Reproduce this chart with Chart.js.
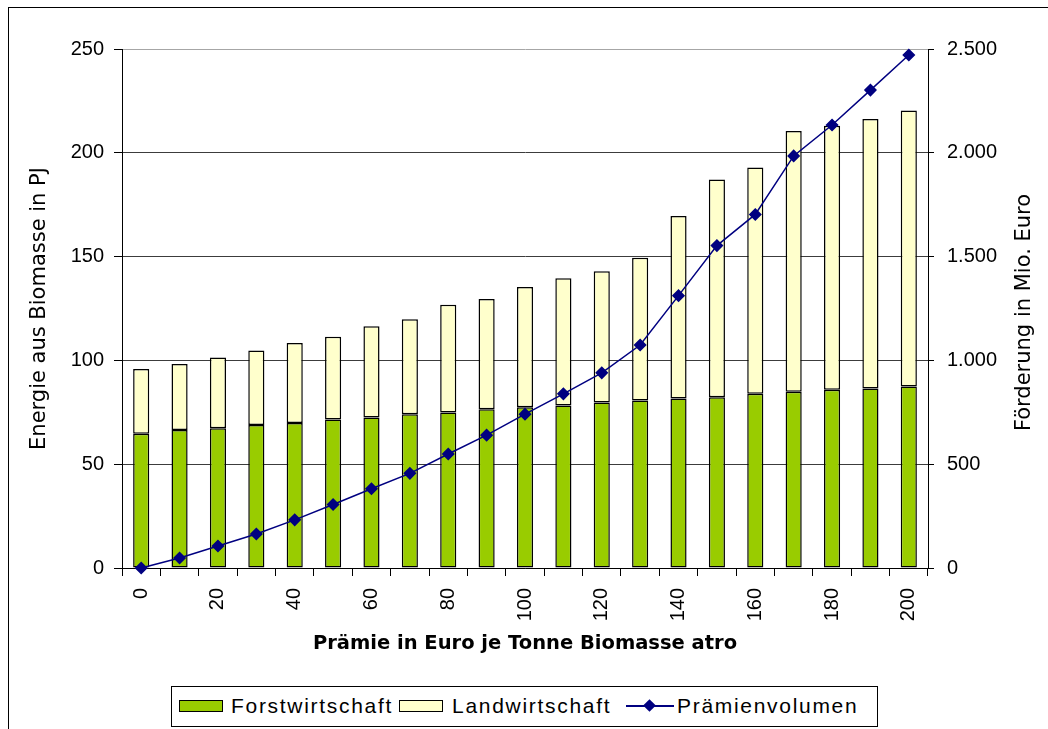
<!DOCTYPE html>
<html lang="de">
<head>
<meta charset="utf-8">
<title>Energie aus Biomasse</title>
<script src="https://cdn.jsdelivr.net/npm/chart.js@4.4.1/dist/chart.umd.min.js"></script>
<style>
  html, body { margin: 0; padding: 0; background: #fff; }
  #wrap   { position: relative; width: 1048px; height: 729px; overflow: hidden; }
  #frame  { position: absolute; left: 8px; top: 7px; width: 1200px; height: 900px;
            border-left: 1px solid #000; border-top: 1px solid #000; }
  #chart  { position: absolute; left: 0; top: 0; }
  #legend { position: absolute; left: 171px; top: 686px; width: 705px; height: 39px;
            border: 1px solid #000; background: #fff;
            font-family: "Liberation Sans", Arial, sans-serif; font-size: 21px;
            letter-spacing: 1.7px; color: #000; }
  .sw     { position: absolute; top: 13px; width: 42px; height: 10px; border: 1.5px solid #000; }
  .lbl    { position: absolute; top: 8px; line-height: 21px; white-space: nowrap; }
  .ln     { position: absolute; left: 454px; top: 18px; width: 48px; height: 2px; background: #000080; }
  .dia    { position: absolute; left: 473px; top: 14px; width: 9px; height: 9px;
            background: #000080; transform: rotate(45deg); }
</style>
</head>
<body>
<div id="wrap">
  <div id="frame"></div>
  <canvas id="chart" width="1048" height="729"></canvas>
  <div id="legend">
    <div class="sw" style="left:7px; background:#99cc00;"></div>
    <div class="lbl" style="left:59px;">Forstwirtschaft</div>
    <div class="sw" style="left:227px; background:#ffffcc;"></div>
    <div class="lbl" style="left:280px;">Landwirtschaft</div>
    <div class="ln"></div>
    <div class="dia"></div>
    <div class="lbl" style="left:505px;">Prämienvolumen</div>
  </div>
</div>
<script>
// ─── Data ────────────────────────────────────────────────────────────────────
const PRICES = ["0", "10", "20", "30", "40", "50", "60", "70", "80", "90", "100",
                "110", "120", "130", "140", "150", "160", "170", "180", "190", "200"];

// Energie in PJ (linke Achse)
const FORST = [64.7, 66.5, 67.3, 68.9, 69.9, 71.5, 72.5, 74.1, 74.9, 76.5, 77.4,
               78.3, 79.7, 80.7, 81.6, 82.3, 83.9, 84.9, 85.9, 86.5, 87.4];
const LAND  = [31.1, 31.8, 34.1, 35.9, 38.5, 39.9, 43.9, 45.7, 51.9, 53.1, 58.0,
               61.3, 63.3, 68.7, 88.0, 104.8, 109.0, 125.6, 127.1, 129.8, 133.0];

// Förderung in Mio. Euro (rechte Achse)
const VOLUME = [0, 48, 106, 164, 232, 306, 382, 456, 549, 640, 741,
                839, 940, 1074, 1312, 1553, 1703, 1985, 2134, 2302, 2471];

const LEFT_TITLE   = "Energie aus Biomasse in PJ";
const RIGHT_TITLE  = "Förderung in Mio. Euro";
const BOTTOM_TITLE = "Prämie in Euro je Tonne Biomasse atro";

// ─── Style ───────────────────────────────────────────────────────────────────
const GREEN  = "#99cc00";
const YELLOW = "#ffffcc";
const NAVY   = "#000080";
const TICK_FONT  = { family: "'Liberation Sans', Arial, sans-serif", size: 20 };
const TITLE_FONT = { family: "'DejaVu Sans', sans-serif", size: 21 };

// ─── Helpers ─────────────────────────────────────────────────────────────────
function de(v) { return String(v).replace(/\B(?=(\d{3})+(?!\d))/g, "."); }

// right axis title reads bottom-to-top like the left one (Chart.js turns it the other way)
const rightTitle = {
    id: "rightTitle",
    afterDraw(chart) {
        const { ctx, chartArea } = chart;
        const s = chart.scales.y1;
        ctx.save();
        ctx.translate(s.right - 23, (chartArea.top + chartArea.bottom) / 2 + 4);
        ctx.rotate(-Math.PI / 2);
        ctx.font = TITLE_FONT.size + "px " + TITLE_FONT.family;
        ctx.fillStyle = "#000";
        ctx.textAlign = "center";
        ctx.textBaseline = "middle";
        ctx.fillText(RIGHT_TITLE, 0, 0);
        ctx.restore();
    }
};

// ─── Chart ───────────────────────────────────────────────────────────────────
new Chart(document.getElementById("chart"), {
    type: "bar",
    plugins: [rightTitle],
    data: {
        labels: PRICES,
        datasets: [
            {
                label: "Forstwirtschaft",
                data: FORST,
                backgroundColor: GREEN,
                borderColor: "#000",
                borderWidth: 1.5,
                borderSkipped: false,
                yAxisID: "y",
                order: 1,
            },
            {
                label: "Landwirtschaft",
                data: LAND,
                backgroundColor: YELLOW,
                borderColor: "#000",
                borderWidth: 1.5,
                borderSkipped: false,
                yAxisID: "y",
                order: 1,
            },
            {
                type: "line",
                label: "Prämienvolumen",
                data: VOLUME,
                yAxisID: "y1",
                borderColor: NAVY,
                borderWidth: 1.5,
                tension: 0,
                pointStyle: "rectRot",
                pointRadius: 5.5,
                pointBackgroundColor: NAVY,
                pointBorderColor: NAVY,
                clip: false,
                order: 0,
            }
        ]
    },
    options: {
        responsive: false,
        animation: false,
        devicePixelRatio: 1,
        layout: { padding: { left: 0, top: 49, right: 0, bottom: 64 } },
        datasets: { bar: { categoryPercentage: 1, barPercentage: 0.42 } },
        plugins: {
            legend: { display: false },
            tooltip: { enabled: false }
        },
        scales: {
            x: {
                stacked: true,
                offset: true,
                grid: { offset: true, drawOnChartArea: false, tickLength: 8, tickColor: "#000" },
                border: { color: "#000", width: 1 },
                ticks: {
                    autoSkip: false,
                    minRotation: 90,
                    maxRotation: 90,
                    padding: 12,
                    color: "#000",
                    font: TICK_FONT,
                    callback(v, i) { return i % 2 === 0 ? this.getLabelForValue(v) : ""; }
                },
                title: {
                    display: true,
                    text: BOTTOM_TITLE,
                    color: "#000",
                    font: { family: "'DejaVu Sans', sans-serif", size: 19.5, weight: "bold" },
                    padding: { top: 0, bottom: 9 }
                },
                afterFit(s) { s.height = 97; }
            },
            y: {
                stacked: true,
                min: 0, max: 250,
                grid: {
                    color: c => (c.tick && c.tick.value === 250) ? "#a6a6a6" : "#3c3c3c",
                    tickLength: 8,
                    tickColor: "#000"
                },
                border: { color: "#000", width: 1 },
                ticks: { stepSize: 50, padding: 10, color: "#000", font: TICK_FONT },
                title: {
                    display: true,
                    text: LEFT_TITLE,
                    color: "#000",
                    font: TITLE_FONT,
                    padding: { top: 27, bottom: 0 }
                },
                afterFit(s) { s.width = 122; }
            },
            y1: {
                position: "right",
                min: 0, max: 2500,
                grid: { drawOnChartArea: false, tickLength: 6, tickColor: "#000" },
                border: { color: "#000", width: 1 },
                ticks: { stepSize: 500, padding: 13, color: "#000", font: TICK_FONT, callback: v => de(v) },
                title: { display: false },
                afterFit(s) { s.width = 120; }
            }
        }
    }
});
</script>
</body>
</html>
